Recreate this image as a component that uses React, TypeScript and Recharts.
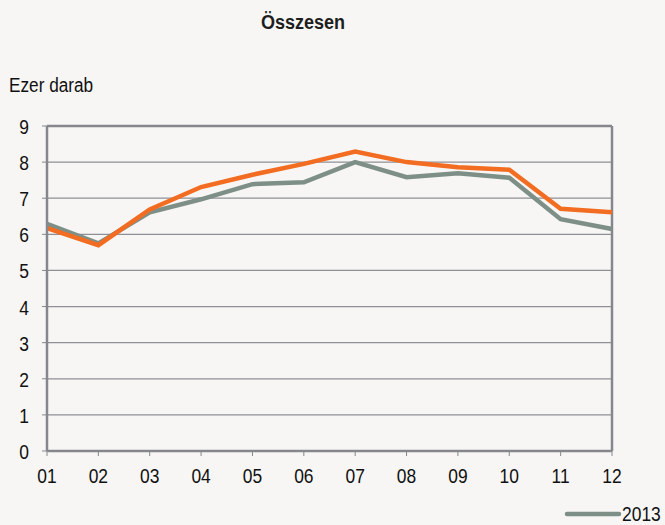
import { CartesianGrid, Line, LineChart, ReferenceLine, XAxis, YAxis } from "recharts";

const months = ["01", "02", "03", "04", "05", "06", "07", "08", "09", "10", "11", "12"];
const series2013 = [6.29, 5.75, 6.61, 6.97, 7.39, 7.44, 8.0, 7.58, 7.69, 7.57, 6.42, 6.15];
const seriesOrange = [6.17, 5.7, 6.69, 7.31, 7.65, 7.95, 8.29, 8.0, 7.86, 7.79, 6.71, 6.61];
const yTicks = [0, 1, 2, 3, 4, 5, 6, 7, 8, 9];

const FONT = "'Liberation Sans', Arial, sans-serif";
const NARROW = 0.83;
const GREY = "#7e8f87";
const ORANGE = "#f26d21";
const FRAME = "#86878c";

const data = months.map((m, i) => ({ month: m, y2013: series2013[i], y2014: seriesOrange[i] }));

// narrow-looking tick labels, like the original Arial Narrow
function NarrowTick(props: any) {
  const { x, y, payload, textAnchor, dy } = props;
  return (
    <text
      transform={`translate(${x},${y + dy}) scale(${NARROW},1)`}
      textAnchor={textAnchor}
      fill="#111"
      fontSize={21}
      fontFamily={FONT}
    >
      {payload.value}
    </text>
  );
}

const narrowText = (extra: any) => ({
  position: "absolute" as const,
  fontFamily: FONT,
  color: "#111",
  transformOrigin: "left top",
  whiteSpace: "nowrap" as const,
  ...extra,
});

export default function App() {
  return (
    <div
      style={{
        position: "absolute",
        left: 0,
        top: 0,
        width: 665,
        height: 525,
        background: "#f7f6f4",
        overflow: "hidden",
      }}
    >
      <div style={narrowText({ left: 261, top: 11, fontSize: 20, fontWeight: "bold", color: "#1e1e1e", transform: "scale(0.9,1)" })}>
        Összesen
      </div>
      <div style={narrowText({ left: 9, top: 74, fontSize: 20, transform: `scale(0.86,1)` })}>Ezer darab</div>
      <LineChart width={665} height={525} data={data} margin={{ top: 126, right: 53, bottom: 44, left: 0 }}>
        <CartesianGrid vertical={false} stroke="#8f9096" strokeWidth={1.2} />
        <XAxis
          dataKey="month"
          height={30}
          tickLine={{ stroke: FRAME }}
          axisLine={{ stroke: FRAME, strokeWidth: 2.5 }}
          tickSize={5}
          tickMargin={0}
          interval={0}
          tick={<NarrowTick dy={27} />}
        />
        <YAxis
          width={47}
          domain={[0, 9]}
          ticks={yTicks}
          interval={0}
          tickLine={{ stroke: FRAME }}
          axisLine={{ stroke: FRAME, strokeWidth: 2.5 }}
          tickSize={5}
          tickMargin={13}
          tick={<NarrowTick dy={8} />}
        />
        <ReferenceLine y={9} stroke={FRAME} strokeWidth={2.5} />
        <ReferenceLine x="12" stroke={FRAME} strokeWidth={2.5} />
        <Line type="linear" dataKey="y2013" name="2013" stroke={GREY} strokeWidth={4.5} dot={false} isAnimationActive={false} />
        <Line type="linear" dataKey="y2014" name="2014" stroke={ORANGE} strokeWidth={4.5} dot={false} isAnimationActive={false} />
      </LineChart>
      <div style={{ position: "absolute", left: 563, top: 502, display: "flex", alignItems: "center" }}>
        <svg width={59} height={10}>
          <line x1={4} y1={5} x2={56} y2={5} stroke={GREY} strokeWidth={4.5} strokeLinecap="round" />
        </svg>
        <span style={{ fontFamily: FONT, fontSize: 21, color: "#111", display: "inline-block", transform: `scale(${NARROW},1)`, transformOrigin: "left center" }}>
          2013
        </span>
      </div>
    </div>
  );
}
